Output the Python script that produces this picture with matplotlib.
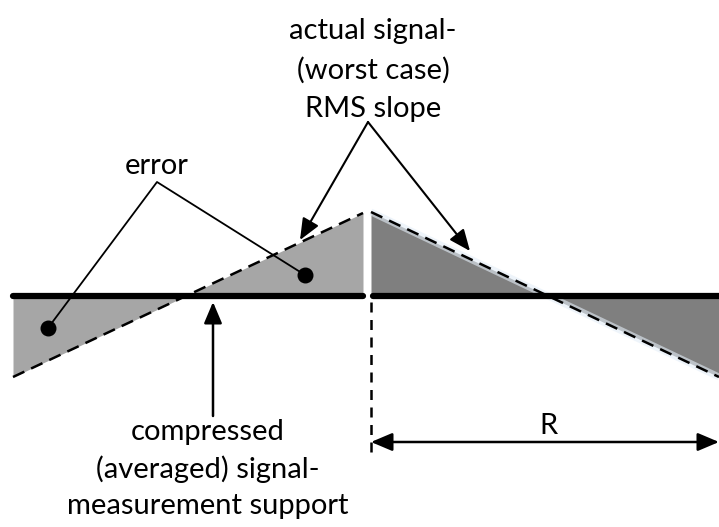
import matplotlib.pyplot as plt
import numpy as np

# diagram geometry in picture units (x right, y down)
left_x = [13, 363]
left_slope_y = [377, 213]
right_x = [371, 719]
right_slope_y = [212, 377]
support_y = 296
dots_x = [48, 305]
dots_y = [328, 275]
r_span = [371, 719]
r_y = 442

plt.rcParams['font.family'] = ['Lato', 'DejaVu Sans']

fig = plt.figure(figsize=(7.19, 5.27), dpi=100)
ax = fig.add_axes([0, 0, 1, 1])
ax.set_xlim(0, 719)
ax.set_ylim(527, 0)
ax.axis('off')

# filled error regions
ax.fill_between(left_x, left_slope_y, [support_y] * 2, color='#a6a6a6', lw=0, zorder=1)
ax.fill_between(right_x, right_slope_y, [support_y] * 2, color='#7f7f7f', lw=0, zorder=1)

# soft glow on right slope
ax.plot(right_x, right_slope_y, color='#e4eef8', lw=5, alpha=0.6, zorder=2, solid_capstyle='butt')

# dashed actual signal
ax.plot(left_x, left_slope_y, color='black', lw=1.8, ls=(0, (5, 3)), zorder=3)
ax.plot(right_x, right_slope_y, color='black', lw=1.8, ls=(0, (5, 3)), zorder=3)

# thick support lines
ax.plot(left_x, [support_y] * 2, color='black', lw=4.5, solid_capstyle='round', zorder=4)
ax.plot([right_x[0] + 2, right_x[1]], [support_y] * 2, color='black', lw=4.5,
        solid_capstyle='round', zorder=4)

# vertical dashed marker
ax.plot([r_span[0], r_span[0]], [302, 452], color='black', lw=1.8, ls=(0, (4, 3)), zorder=3)

# dots
ax.scatter(dots_x, dots_y, s=110, color='black', zorder=5)

# error label with lines
ax.text(157, 166, 'error', ha='center', va='center', fontsize=21)
ax.plot([dots_x[0], 157, dots_x[1]], [dots_y[0], 182, dots_y[1]], color='black', lw=1.3, zorder=5)

# actual signal label with arrows
ax.text(373, 70, 'actual signal-\n(worst case)\nRMS slope', ha='center', va='center',
        fontsize=21, linespacing=1.6)
apex = (368, 122)
ax.annotate('', xy=(300, 240), xytext=apex,
            arrowprops=dict(arrowstyle='-|>,head_length=1.3,head_width=0.55', color='black', lw=1.5,
                            shrinkA=0, shrinkB=0), zorder=6)
ax.annotate('', xy=(470, 251), xytext=apex,
            arrowprops=dict(arrowstyle='-|>,head_length=1.3,head_width=0.55', color='black', lw=1.5,
                            shrinkA=0, shrinkB=0), zorder=6)

# support label with arrow
ax.text(208, 469, 'compressed\n(averaged) signal-\nmeasurement support', ha='center', va='center',
        fontsize=21, linespacing=1.45)
ax.annotate('', xy=(213, 302), xytext=(213, 416),
            arrowprops=dict(arrowstyle='-|>,head_length=1.3,head_width=0.55', color='black', lw=1.8,
                            shrinkA=0, shrinkB=0), zorder=6)

# R dimension
ax.annotate('', xy=(r_span[0], r_y), xytext=(r_span[1], r_y),
            arrowprops=dict(arrowstyle='<|-|>,head_length=1.3,head_width=0.55', color='black', lw=1.8,
                            shrinkA=0, shrinkB=0), zorder=6)
ax.text(548, 426, 'R', ha='center', va='center', fontsize=21)

fig.savefig('out.png', dpi=100)
